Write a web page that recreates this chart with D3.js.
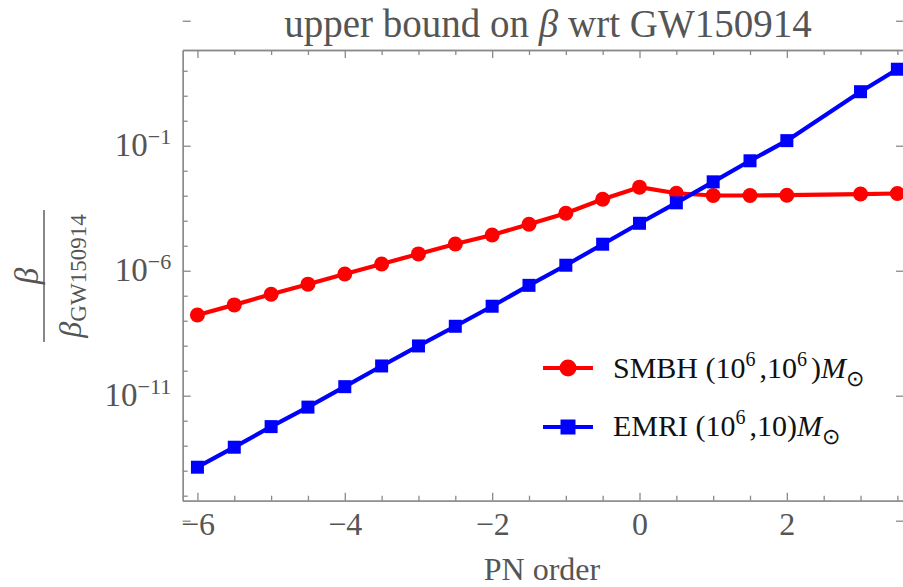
<!DOCTYPE html>
<html>
<head>
<meta charset="utf-8">
<script src="https://cdn.jsdelivr.net/npm/d3@7"></script>
<style>
    body { margin: 0; background: #fff; }
    svg { display: block; font-family: "Liberation Serif", "Times New Roman", serif; }
    .axis .domain, .axis line { stroke: #8a8a8a; stroke-width: 1.3; }
    .axis text { fill: #555; font-size: 32px; font-family: "Liberation Serif", "Times New Roman", serif; }
    .label { fill: #555; }
    .legend-label { fill: #111; font-size: 30px; }
</style>
</head>
<body>
<div id="chart"></div>
<script>
// PN order of each point (no point at 2.5)
const pnOrder = [-6, -5.5, -5, -4.5, -4, -3.5, -3, -2.5, -2, -1.5, -1, -0.5, 0, 0.5, 1, 1.5, 2, 3, 3.5];

// beta / beta_GW150914
const smbhBound = [1.7e-8, 4.3e-8, 1.15e-7, 2.9e-7, 7.4e-7, 1.86e-6, 4.7e-6, 1.17e-5, 2.7e-5, 7.2e-5,
    2.0e-4, 7.2e-4, 2.2e-3, 1.26e-3, 1.02e-3, 1.02e-3, 1.05e-3, 1.17e-3, 1.23e-3];
const emriBound = [1.38e-14, 8.7e-14, 5.8e-13, 3.5e-12, 2.3e-11, 1.55e-10, 9.8e-10, 6.0e-9, 3.8e-8, 2.6e-7,
    1.66e-6, 1.15e-5, 7.9e-5, 5.2e-4, 3.6e-3, 2.5e-2, 0.16, 14.5, 115];

// Tick values
const xMajorTicks = [-6, -4, -2, 0, 2];
const xMinorTicks = [-5.5, -5, -4.5, -3.5, -3, -2.5, -1.5, -1, -0.5, 0.5, 1, 1.5, 2.5, 3, 3.5];
const yLabelExponents = [-1, -6, -11];
const yMajorTicks = [1e-16, 1e-11, 1e-6, 1e-1, 1e4];
const yMinorTicks = [1e-15, 1e-14, 1e-13, 1e-12, 1e-10, 1e-9, 1e-8, 1e-7, 1e-5, 1e-4, 1e-3, 1e-2, 1, 10, 100];

(() => {
    const width = 903;
    const height = 587;
    const margin = {top: 50, right: -1, bottom: 86.3, left: 182.7};
    const innerWidth = width - margin.left - margin.right;
    const innerHeight = height - margin.top - margin.bottom;

    const root = d3.select("#chart")
        .append("svg")
        .attr("width", width)
        .attr("height", height);

    const svg = root.append("g")
        .attr("transform", `translate(${margin.left}, ${margin.top})`);

    const x = d3.scaleLinear()
        .domain([-6.2, 3.59])
        .range([0, innerWidth]);

    const y = d3.scaleLog()
        .domain([Math.pow(10, -15.2), Math.pow(10, 2.83)])
        .range([innerHeight, 0]);

    // Frame: bottom axis with labels, other sides ticks only (all ticks point inward)
    svg.append("g")
        .attr("class", "axis")
        .attr("transform", `translate(0, ${innerHeight})`)
        .call(d3.axisBottom(x).tickValues(xMajorTicks).tickSizeInner(-8).tickSizeOuter(0).tickPadding(11.5));
    svg.append("g")
        .attr("class", "axis")
        .attr("transform", `translate(0, ${innerHeight})`)
        .call(d3.axisBottom(x).tickValues(xMinorTicks).tickSizeInner(-5).tickSizeOuter(0).tickFormat(""));
    svg.append("g")
        .attr("class", "axis")
        .call(d3.axisTop(x).tickValues(xMajorTicks).tickSizeInner(-8).tickSizeOuter(0).tickFormat(""));
    svg.append("g")
        .attr("class", "axis")
        .call(d3.axisTop(x).tickValues(xMinorTicks).tickSizeInner(-5).tickSizeOuter(0).tickFormat(""));
    svg.append("g")
        .attr("class", "axis")
        .call(d3.axisLeft(y).tickValues(yMajorTicks).tickSizeInner(-8).tickSizeOuter(0).tickFormat(""));
    svg.append("g")
        .attr("class", "axis")
        .call(d3.axisLeft(y).tickValues(yMinorTicks).tickSizeInner(-5).tickSizeOuter(0).tickFormat(""));
    svg.append("g")
        .attr("class", "axis")
        .attr("transform", `translate(${innerWidth}, 0)`)
        .call(d3.axisRight(y).tickValues(yMajorTicks).tickSizeInner(-8).tickSizeOuter(0).tickFormat(""));

    // y tick labels as 10^n with a real superscript
    const yLabels = svg.append("g").selectAll("text").data(yLabelExponents).enter()
        .append("text")
        .attr("class", "label")
        .attr("x", -11.5)
        .attr("y", d => y(Math.pow(10, d)) + 10.5)
        .style("text-anchor", "end")
        .style("font-size", "33px");
    yLabels.append("tspan").text("10");
    yLabels.append("tspan")
        .attr("dy", -12)
        .style("font-size", "22px")
        .text(d => "\u2212" + Math.abs(d));

    const line = d3.line()
        .x(d => x(d.pn))
        .y(d => y(d.value));

    const series = [
        {name: "smbh", color: "#ff0000", marker: "circle",
            points: pnOrder.map((pn, i) => ({pn: pn, value: smbhBound[i]}))},
        {name: "emri", color: "#0000ff", marker: "square",
            points: pnOrder.map((pn, i) => ({pn: pn, value: emriBound[i]}))}
    ];

    series.forEach(s => {
        svg.append("path")
            .datum(s.points)
            .attr("d", line)
            .attr("fill", "none")
            .attr("stroke", s.color)
            .attr("stroke-width", 4.2)
            .attr("stroke-linejoin", "round");

        const marks = svg.append("g").selectAll("g").data(s.points).enter();
        if (s.marker === "circle") {
            marks.append("circle")
                .attr("cx", d => x(d.pn))
                .attr("cy", d => y(d.value))
                .attr("r", 7.5)
                .attr("fill", s.color);
        } else {
            marks.append("rect")
                .attr("x", d => x(d.pn) - 6.5)
                .attr("y", d => y(d.value) - 6.5)
                .attr("width", 13)
                .attr("height", 13)
                .attr("fill", s.color);
        }
    });

    // Legend
    const legend = root.append("g");
    const legendRows = [
        {color: "#ff0000", marker: "circle", y: 368},
        {color: "#0000ff", marker: "square", y: 427}
    ];
    legendRows.forEach(row => {
        legend.append("line")
            .attr("x1", 543).attr("x2", 593)
            .attr("y1", row.y).attr("y2", row.y)
            .attr("stroke", row.color)
            .attr("stroke-width", 4.2);
        if (row.marker === "circle") {
            legend.append("circle").attr("cx", 568).attr("cy", row.y).attr("r", 8.5).attr("fill", row.color);
        } else {
            legend.append("rect").attr("x", 560.5).attr("y", row.y - 7.5)
                .attr("width", 15).attr("height", 15).attr("fill", row.color);
        }
    });

    const smbhText = legend.append("text").attr("class", "legend-label").attr("x", 613).attr("y", 378);
    smbhText.append("tspan").text("SMBH (10");
    smbhText.append("tspan").attr("dy", -12).style("font-size", "20px").text("6");
    smbhText.append("tspan").attr("dy", 12).attr("dx", 4).text(",10");
    smbhText.append("tspan").attr("dy", -12).style("font-size", "20px").text("6");
    smbhText.append("tspan").attr("dy", 12).attr("dx", 4).text(")");
    smbhText.append("tspan").style("font-style", "italic").text("M");
    smbhText.append("tspan").attr("dy", 8).style("font-size", "22px").text("\u2299");

    const emriText = legend.append("text").attr("class", "legend-label").attr("x", 613).attr("y", 436);
    emriText.append("tspan").text("EMRI (10");
    emriText.append("tspan").attr("dy", -12).style("font-size", "20px").text("6");
    emriText.append("tspan").attr("dy", 12).attr("dx", 4).text(",10)");
    emriText.append("tspan").style("font-style", "italic").text("M");
    emriText.append("tspan").attr("dy", 8).style("font-size", "22px").text("\u2299");

    // Chart title
    const title = root.append("text")
        .attr("class", "label")
        .attr("x", 548)
        .attr("y", 37)
        .style("text-anchor", "middle")
        .style("font-size", "39px");
    title.append("tspan").text("upper bound on ");
    title.append("tspan").style("font-style", "italic").text("\u03b2");
    title.append("tspan").text(" wrt GW150914");

    // x-axis label
    root.append("text")
        .attr("class", "label")
        .attr("x", 542)
        .attr("y", 580)
        .style("text-anchor", "middle")
        .style("font-size", "32px")
        .text("PN order");

    // y-axis label: beta / beta_GW150914 as a rotated fraction
    const yTitle = root.append("g")
        .attr("transform", "translate(44, 276) rotate(-90)");
    yTitle.append("text")
        .attr("class", "label")
        .attr("y", -6)
        .style("text-anchor", "middle")
        .style("font-size", "33px")
        .style("font-style", "italic")
        .text("\u03b2");
    yTitle.append("line")
        .attr("x1", -66).attr("x2", 66)
        .attr("stroke", "#555")
        .attr("stroke-width", 1.4);
    const denom = yTitle.append("text")
        .attr("class", "label")
        .attr("y", 37)
        .style("text-anchor", "middle")
        .style("font-size", "32px");
    denom.append("tspan").style("font-style", "italic").text("\u03b2");
    denom.append("tspan").attr("dy", 5).style("font-size", "23px").text("GW150914");
})()
</script>
</body>
</html>
